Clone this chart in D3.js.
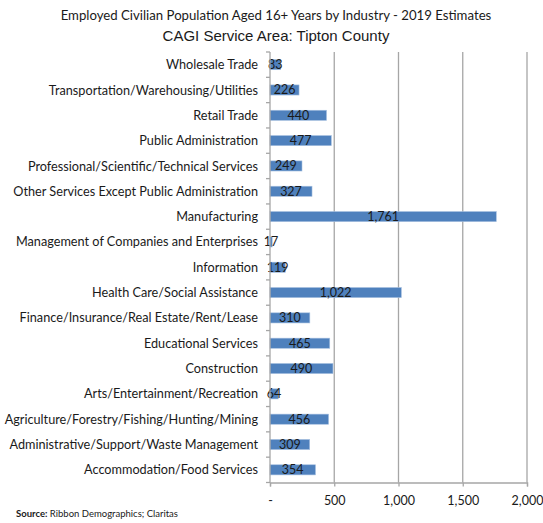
<!DOCTYPE html>
<html><head><meta charset="utf-8">
<script src="https://cdn.jsdelivr.net/npm/d3@7"></script>
<style>body{margin:0;background:#fff}</style>
</head><body>
<svg id="c" width="543" height="523"></svg>
<script>
const categories = ["Wholesale Trade","Transportation/Warehousing/Utilities","Retail Trade","Public Administration","Professional/Scientific/Technical Services","Other Services Except Public Administration","Manufacturing","Management of Companies and Enterprises","Information","Health Care/Social Assistance","Finance/Insurance/Real Estate/Rent/Lease","Educational Services","Construction","Arts/Entertainment/Recreation","Agriculture/Forestry/Fishing/Hunting/Mining","Administrative/Support/Waste Management","Accommodation/Food Services"];
const values = [83,226,440,477,249,327,1761,17,119,1022,310,465,490,64,456,309,354];
const xTicks = [0,500,1000,1500,2000];
const xTickLabels = ["-","500","1,000","1,500","2,000"];
const title1 = "Employed Civilian Population Aged 16+ Years by Industry - 2019 Estimates";
const title2 = "CAGI Service Area: Tipton County";

const svg = d3.select("#c");
const pL = 270, pR = 527, pT = 52, pB = 482.5;
const x = d3.scaleLinear().domain([0,2000]).range([pL,pR]);
const y = d3.scaleBand().domain(categories).range([pT,pB]).paddingInner(0.6).paddingOuter(0.3);
const grid = "#a6a6a6";
const font = "Lato, 'Open Sans', sans-serif";

svg.append("g").selectAll("line").data(xTicks.slice(1)).join("line")
  .attr("x1",d=>x(d)).attr("x2",d=>x(d)).attr("y1",pT).attr("y2",pB)
  .attr("stroke",grid).attr("stroke-width",1.3);

svg.append("g").selectAll("rect").data(values).join("rect")
  .attr("x",x(0)).attr("y",(d,i)=>y(categories[i]))
  .attr("width",d=>x(d)-x(0)).attr("height",y.bandwidth())
  .attr("fill","#4f81bd").attr("stroke","#a7c0e0").attr("stroke-width",0.6);

svg.append("g").selectAll("text").data(values).join("text")
  .attr("x",d=>(x(d)+x(0))/2).attr("y",(d,i)=>y(categories[i])+y.bandwidth()/2)
  .attr("dy","0.36em").attr("text-anchor","middle")
  .attr("font-family",font).attr("font-size",12.5).attr("fill","#1a1a1a")
  .text(d=>d3.format(",")(d));

const yb = svg.append("g");
yb.append("line").attr("x1",pL).attr("x2",pL).attr("y1",pT).attr("y2",pB).attr("stroke",grid).attr("stroke-width",1.3);
const step = (pB-pT)/categories.length;
yb.selectAll("line.t").data(d3.range(categories.length+1)).join("line").attr("class","t")
  .attr("x1",pL-4).attr("x2",pL).attr("y1",i=>pT+i*step).attr("y2",i=>pT+i*step)
  .attr("stroke",grid).attr("stroke-width",1.3);
yb.selectAll("text").data(categories).join("text")
  .attr("x",258).attr("y",d=>y(d)+y.bandwidth()/2).attr("dy","0.36em")
  .attr("text-anchor","end").attr("font-family",font).attr("font-size",12.7).attr("fill","#1a1a1a")
  .text(d=>d);

const xa = svg.append("g").attr("transform",`translate(0,${pB})`)
  .call(d3.axisBottom(x).tickValues(xTicks).tickFormat((d,i)=>xTickLabels[i]).tickSize(4).tickPadding(10));
xa.select(".domain").attr("stroke",grid).attr("stroke-width",1.3);
xa.selectAll(".tick line").attr("stroke",grid).attr("stroke-width",1.3);
xa.selectAll(".tick text").attr("font-family",font).attr("font-size",12.5).attr("fill","#1a1a1a");

svg.append("text").attr("x",276).attr("y",20).attr("text-anchor","middle")
  .attr("font-family",font).attr("font-size",13.2).attr("fill","#1a1a1a").text(title1);
svg.append("text").attr("x",276).attr("y",41).attr("text-anchor","middle")
  .attr("font-family","'Liberation Sans', Arial, sans-serif").attr("font-size",15).attr("fill","#1a1a1a").text(title2);

const s = svg.append("text").attr("x",16).attr("y",517).attr("font-family",font).attr("font-size",9.5).attr("fill","#1a1a1a");
s.append("tspan").attr("font-weight","bold").text("Source:");
s.append("tspan").text(" Ribbon Demographics; Claritas");
</script>
</body></html>
